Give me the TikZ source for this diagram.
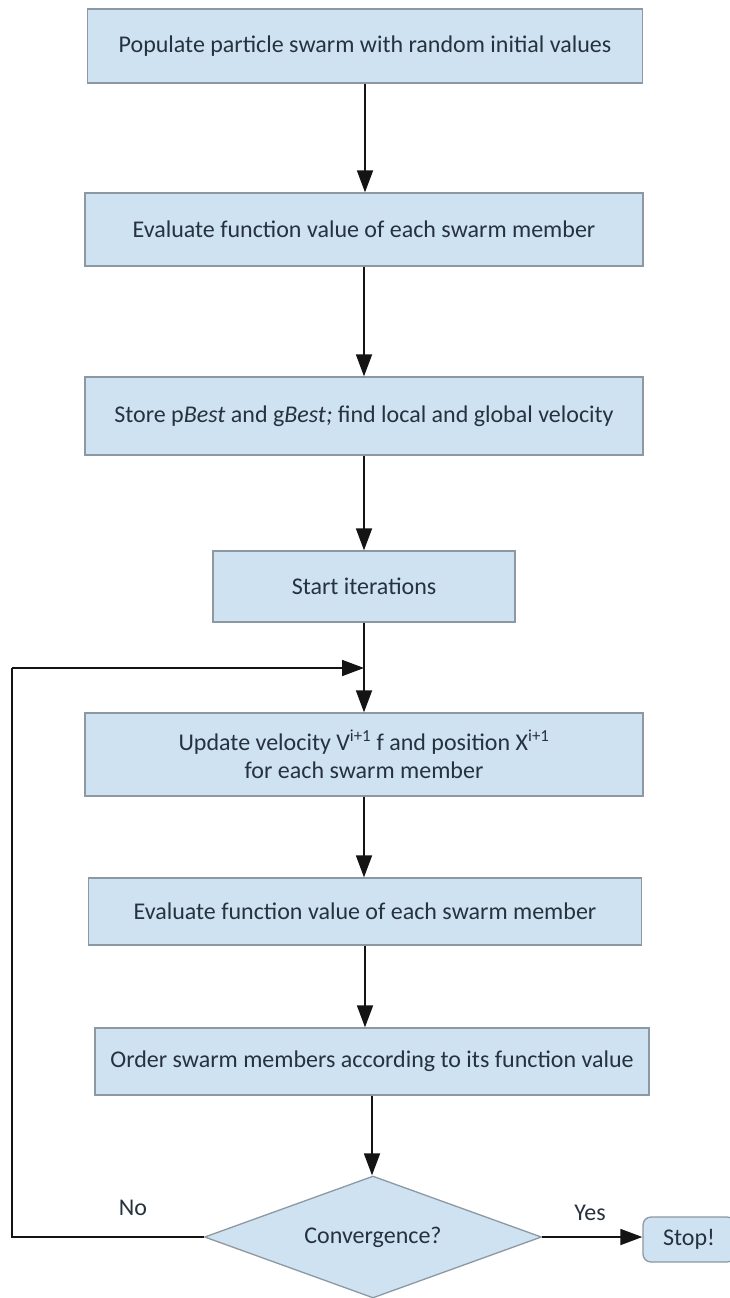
\documentclass[tikz,border=0pt]{standalone}
\usepackage{fontspec}
\setmainfont{Carlito}
\usetikzlibrary{arrows.meta,shapes.geometric}

\definecolor{boxfill}{RGB}{207,226,242}
\definecolor{boxline}{RGB}{140,152,162}
\definecolor{txt}{RGB}{38,50,62}
\definecolor{linec}{RGB}{20,20,20}

\tikzset{
  stepbox/.style={draw=boxline, fill=boxfill, line width=1.3pt, inner sep=0pt,
    text=txt, font=\fontsize{24}{28}\selectfont, align=center},
  decision/.style={stepbox, shape=diamond, aspect=2.7},
  flow/.style={draw=linec, line width=1.8pt, -{Triangle[length=22pt,width=16pt]}},
  plain/.style={draw=linec, line width=1.8pt},
  lbl/.style={text=txt, font=\fontsize{24}{28}\selectfont, inner sep=0pt}
}

\begin{document}
\begin{tikzpicture}[x=1pt,y=-1pt]
  \useasboundingbox (0,0) rectangle (729,1298);

  % process steps
  \node[stepbox, minimum width=555pt, minimum height=74pt] (pop) at (365,46)
    {Populate particle swarm with random initial values};
  \node[stepbox, minimum width=558pt, minimum height=73pt] (eval1) at (364,229.5)
    {Evaluate function value of each swarm member};
  \node[stepbox, minimum width=558pt, minimum height=78pt] (store) at (364,416)
    {Store p\textit{Best} and g\textit{Best;} find local and global velocity};
  \node[stepbox, minimum width=302pt, minimum height=71pt] (start) at (364,586.5)
    {Start iterations};
  \node[stepbox, minimum width=558pt, minimum height=83pt] (update) at (364,754.5)
    {Update velocity V\textsuperscript{i+1} f and position X\textsuperscript{i+1}\\ for each swarm member};
  \node[stepbox, minimum width=553pt, minimum height=67pt] (eval2) at (365,911.5)
    {Evaluate function value of each swarm member};
  \node[stepbox, minimum width=554pt, minimum height=67pt] (order) at (372,1061.5)
    {Order swarm members according to its function value};

  % decision and end
  \node[decision, minimum width=337pt, minimum height=122pt] (conv) at (373,1237)
    {Convergence?};
  \node[stepbox, rounded corners=8pt, minimum width=92pt, minimum height=45pt] (stop) at (689,1239.5)
    {Stop!};

  % loop-back junction above the update step
  \coordinate (merge) at (364,668);
  \coordinate (loopbot) at (12,1237);
  \coordinate (looptop) at (12,668);

  % main flow
  \draw[flow] (pop.south) -- (pop.south |- eval1.north);
  \draw[flow] (eval1.south) -- (eval1.south |- store.north);
  \draw[flow] (store.south) -- (store.south |- start.north);
  \draw[flow] (start.south) -- (start.south |- update.north);
  \draw[flow] (update.south) -- (update.south |- eval2.north);
  \draw[flow] (eval2.south) -- (eval2.south |- order.north);
  \draw[flow] (order.south) -- (order.south |- conv.north);

  % branches
  \draw[flow] (conv.east) -- (conv.east -| stop.west);
  \draw[plain] (conv.west) -- (loopbot) -- (looptop);
  \draw[flow] (looptop) -- (merge);

  \node[lbl] (no) at (133,1208) {No};
  \node[lbl] (yes) at (590,1213) {Yes};
\end{tikzpicture}
\end{document}
